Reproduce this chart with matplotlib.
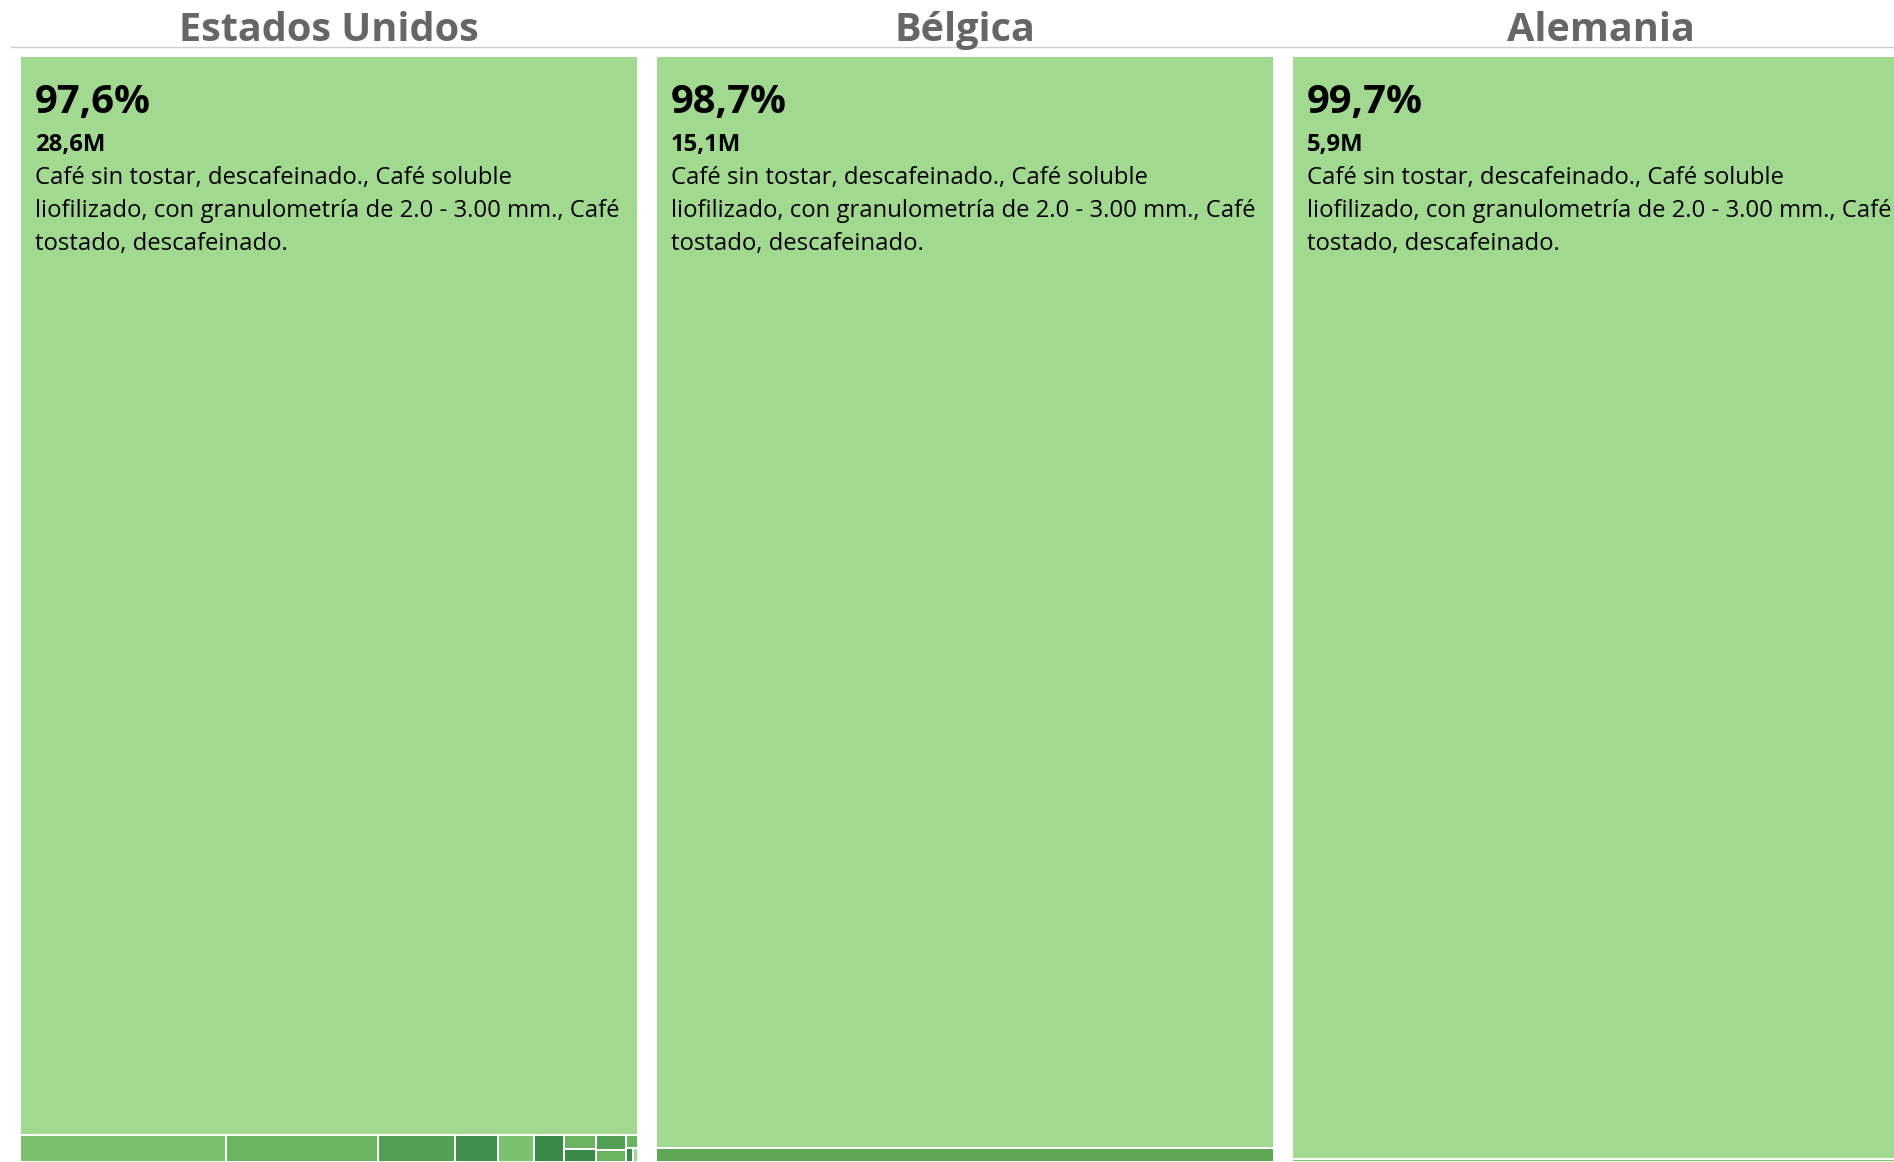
import matplotlib.pyplot as plt
from matplotlib.patches import Rectangle

# data
countries = ['Estados Unidos', 'Bélgica', 'Alemania']
main_share = [97.6, 98.7, 99.7]          # % of the top product group
main_label = ['28,6M', '15,1M', '5,9M']
main_lines = ['Café sin tostar, descafeinado., Café soluble',
              'liofilizado, con granulometría de 2.0 - 3.00 mm., Café',
              'tostado, descafeinado.']

# remaining products: columns -> rows -> cells (values in M USD)
rest_usa = [[[0.233]], [[0.172]], [[0.088]], [[0.048]], [[0.041]], [[0.034]],
            [[0.019], [0.017]], [[0.018], [0.016]], [[0.0065], [0.0045, 0.003]]]
rest_bel = [[[0.20]]]
rest_deu = [[[0.018]]]
rest_all = [rest_usa, rest_bel, rest_deu]

# colours for the cells above, same nesting
c1, c2, c3, c4, c5, c6 = '#7bc16e', '#6ab35f', '#539f53', '#408e4e', '#3a8a4a', '#a1d990'
rest_colors = [
    [[[c1]], [[c2]], [[c3]], [[c4]], [[c1]], [[c5]],
     [[c2], [c5]], [[c3], [c2]], [[c2], [c5, c6]]],
    [[['#5fa655']]],
    [[[c1]]],
]
main_color = '#a1d990'

plt.rcParams['font.family'] = ['Open Sans', 'DejaVu Sans']

fig = plt.figure(figsize=(18.94, 11.62), dpi=100)
ax = fig.add_axes([0, 0, 1, 1])
ax.set_xlim(0, 1894)
ax.set_ylim(1162, 0)
ax.axis('off')

panel_x0 = 20
panel_w = 618
panel_gap = 18
panel_top = 56
panel_h = 1106


def cell(x, y, w, h, color):
    ax.add_patch(Rectangle((x, y), w, h, facecolor=color, edgecolor='white', linewidth=1.4))


# separator under the titles
ax.plot([11, 1894], [47, 47], color='#cccccc', linewidth=1)

for i, name in enumerate(countries):
    x0 = panel_x0 + i * (panel_w + panel_gap)
    ax.text(x0 + panel_w / 2, 41, name, ha='center', va='baseline',
            fontsize=28.5, fontweight='bold', color='#666666')

    main_h = panel_h * main_share[i] / 100
    cell(x0, panel_top, panel_w, main_h, main_color)

    # bottom strip with the remaining products
    strip_y = panel_top + main_h
    strip_h = panel_h - main_h
    cols = rest_all[i]
    col_tot = [sum(sum(r) for r in col) for col in cols]
    total = sum(col_tot)
    cx = x0
    for col, ctot, ccol in zip(cols, col_tot, rest_colors[i]):
        cw = panel_w * ctot / total
        ry = strip_y
        for row, rcol in zip(col, ccol):
            rh = strip_h * sum(row) / ctot
            rx = cx
            for v, colr in zip(row, rcol):
                rw = cw * v / sum(row)
                cell(rx, ry, rw, rh, colr)
                rx += rw
            ry += rh
        cx += cw

    tx = x0 + 15
    ax.text(tx, 113, f'{main_share[i]:.1f}%'.replace('.', ','), va='baseline',
            fontsize=28.8, fontweight='bold', color='black')
    ax.text(tx, 151, main_label[i], va='baseline', fontsize=17.2,
            fontweight='bold', color='black')
    for k, line in enumerate(main_lines):
        ax.text(tx, 184 + 33 * k, line, va='baseline', fontsize=17.2, color='black')

fig.savefig('out.png', dpi=100)
